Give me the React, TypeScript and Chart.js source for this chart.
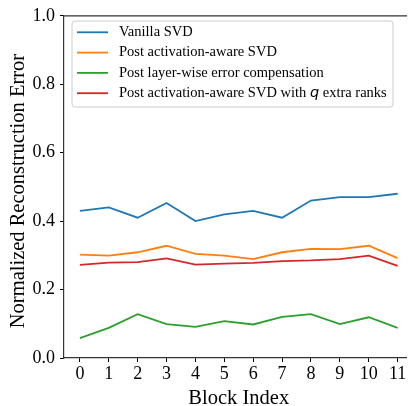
import React, { useEffect, useRef } from "react";
import { Chart, registerables } from "chart.js";

Chart.register(...registerables);

const blockIndex = [0, 1, 2, 3, 4, 5, 6, 7, 8, 9, 10, 11];
const yTicks = [0, 0.2, 0.4, 0.6, 0.8, 1.0];

const vanillaSvd = [0.43, 0.44, 0.41, 0.453, 0.40, 0.42, 0.43, 0.41, 0.46, 0.47, 0.47, 0.48];
const postActAware = [0.302, 0.299, 0.309, 0.328, 0.304, 0.299, 0.289, 0.309, 0.319, 0.318, 0.328, 0.292];
const postLayerWise = [0.058, 0.088, 0.128, 0.099, 0.091, 0.108, 0.098, 0.12, 0.128, 0.099, 0.119, 0.088];
const postActAwareQ = [0.272, 0.279, 0.28, 0.291, 0.273, 0.276, 0.278, 0.283, 0.285, 0.289, 0.299, 0.269];

const seriesLabels = [
  "Vanilla SVD",
  "Post activation-aware SVD",
  "Post layer-wise error compensation",
  "Post activation-aware SVD with q extra ranks",
];
const seriesColors = ["#1f77b4", "#ff7f0e", "#2ca02c", "#d62728"];
const seriesValues = [vanillaSvd, postActAware, postLayerWise, postActAwareQ];

const xTitle = "Block Index";
const yTitle = "Normalized Reconstruction Error";

const SERIF = "'Liberation Serif', 'Times New Roman', serif";

const framePlugin = {
  id: "frame",
  afterDraw(chart: any) {
    const { ctx, chartArea } = chart;
    ctx.save();
    ctx.strokeStyle = "#333";
    ctx.lineWidth = 1.2;
    ctx.beginPath();
    ctx.moveTo(chartArea.left, chartArea.top);
    ctx.lineTo(chartArea.right, chartArea.top);
    ctx.lineTo(chartArea.right, chartArea.bottom);
    ctx.stroke();

    // axis titles
    ctx.fillStyle = "#000";
    ctx.font = `20.5px ${SERIF}`;
    ctx.textAlign = "center";
    ctx.textBaseline = "alphabetic";
    ctx.fillText(xTitle, (chartArea.left + chartArea.right) / 2, 404);
    ctx.translate(23.5, 191);
    ctx.rotate(-Math.PI / 2);
    ctx.fillText(yTitle, 0, 0);
    ctx.restore();
  },
};

const legendPlugin = {
  id: "boxLegend",
  afterDraw(chart: any) {
    const { ctx } = chart;
    const bx = 72, by = 21, bw = 321, bh = 86, r = 3;
    ctx.save();
    ctx.beginPath();
    ctx.moveTo(bx + r, by);
    ctx.lineTo(bx + bw - r, by);
    ctx.arcTo(bx + bw, by, bx + bw, by + r, r);
    ctx.lineTo(bx + bw, by + bh - r);
    ctx.arcTo(bx + bw, by + bh, bx + bw - r, by + bh, r);
    ctx.lineTo(bx + r, by + bh);
    ctx.arcTo(bx, by + bh, bx, by + bh - r, r);
    ctx.lineTo(bx, by + r);
    ctx.arcTo(bx, by, bx + r, by, r);
    ctx.closePath();
    ctx.fillStyle = "rgba(255,255,255,0.8)";
    ctx.fill();
    ctx.strokeStyle = "#cccccc";
    ctx.lineWidth = 1;
    ctx.stroke();

    seriesLabels.forEach((label, i) => {
      const y = 32.3 + i * 20.3;
      ctx.strokeStyle = seriesColors[i];
      ctx.lineWidth = 1.8;
      ctx.beginPath();
      ctx.moveTo(77, y);
      ctx.lineTo(108, y);
      ctx.stroke();
      ctx.fillStyle = "#000";
      ctx.textBaseline = "middle";
      ctx.textAlign = "left";
      const parts = label.split(" q ");
      let x = 119;
      ctx.font = `14.5px ${SERIF}`;
      if (parts.length === 2) {
        const a = parts[0] + " ";
        ctx.fillText(a, x, y);
        x += ctx.measureText(a).width;
        ctx.font = `italic 14.5px 'DejaVu Sans', sans-serif`;
        ctx.fillText("q", x, y);
        x += ctx.measureText("q").width;
        ctx.font = `14.5px ${SERIF}`;
        ctx.fillText(" " + parts[1], x, y);
      } else {
        ctx.fillText(label, x, y);
      }
    });
    ctx.restore();
  },
};

export default function App() {
  const ref = useRef<HTMLCanvasElement>(null);
  useEffect(() => {
    if (!ref.current) return;
    const chart = new Chart(ref.current, {
      type: "line",
      data: {
        datasets: seriesValues.map((vals, i) => ({
          label: seriesLabels[i],
          data: vals.map((v, j) => ({ x: blockIndex[j], y: v })),
          borderColor: seriesColors[i],
          backgroundColor: seriesColors[i],
          borderWidth: 1.8,
          pointRadius: 0,
          tension: 0,
          fill: false,
        })),
      },
      options: {
        animation: false,
        responsive: false,
        maintainAspectRatio: false,
        layout: { padding: { top: 13, right: 6.5, left: 0, bottom: 0 } },
        plugins: { legend: { display: false }, tooltip: { enabled: false } },
        scales: {
          x: {
            type: "linear",
            min: -0.55,
            max: 11.55,
            afterBuildTicks: (s: any) => {
              s.ticks = blockIndex.map((v) => ({ value: v }));
            },
            afterFit: (s: any) => {
              s.height = 48;
            },
            ticks: {
              color: "#000",
              font: { family: SERIF, size: 18 },
              padding: 1,
              maxRotation: 0,
              autoSkip: false,
              callback: (v: any) => String(v),
            },
            grid: {
              drawOnChartArea: false,
              drawTicks: true,
              tickLength: 4,
              tickColor: "#000",
              tickWidth: 1,
            },
            border: { display: true, color: "#333", width: 1.2 },
            title: { display: false },
          },
          y: {
            type: "linear",
            min: 0,
            max: 1,
            afterBuildTicks: (s: any) => {
              s.ticks = yTicks.map((v) => ({ value: v }));
            },
            afterFit: (s: any) => {
              s.width = 64;
            },
            ticks: {
              color: "#000",
              font: { family: SERIF, size: 18 },
              padding: 5,
              callback: (v: any) => Number(v).toFixed(1),
            },
            grid: {
              drawOnChartArea: false,
              drawTicks: true,
              tickLength: 4,
              tickColor: "#000",
              tickWidth: 1,
            },
            border: { display: true, color: "#333", width: 1.2 },
            title: { display: false },
          },
        },
      },
      plugins: [framePlugin, legendPlugin],
    });
    return () => chart.destroy();
  }, []);

  return (
    <div
      style={{
        position: "fixed",
        left: 0,
        top: 0,
        width: 407,
        height: 406,
        overflow: "hidden",
        background: "#fff",
      }}
    >
      <canvas ref={ref} width={420} height={406} style={{ display: "block" }} />
    </div>
  );
}
